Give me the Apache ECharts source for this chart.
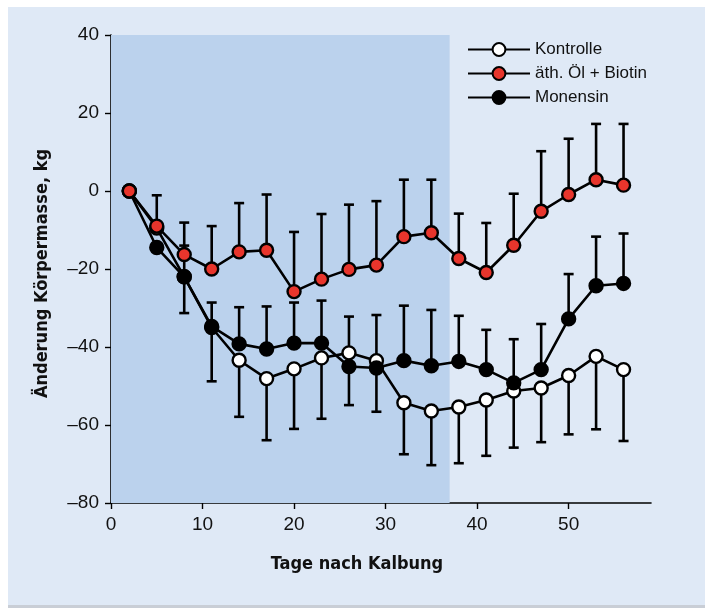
<!DOCTYPE html>
<html>
<head>
<meta charset="utf-8">
<script src="https://cdn.jsdelivr.net/npm/echarts@6/dist/echarts.min.js"></script>
<style>
  html, body { margin: 0; padding: 0; background: #ffffff; }
  #chart { width: 705px; height: 608px; }
</style>
</head>
<body>
<div id="chart"></div>
<script>
// Sampling days after calving
const days = [2, 5, 8, 11, 14, 17, 20, 23, 26, 29, 32, 35, 38, 41, 44, 47, 50, 53, 56];

// Mean body-mass change (kg) per group
const kontrolle = [0, -9.5, -22.0, -35.0, -43.4, -48.1, -45.6, -42.8, -41.5, -43.5, -54.3, -56.4, -55.4, -53.6, -51.3, -50.5, -47.3, -42.4, -45.8];
const oelBiotin = [0, -9.0, -16.3, -20.0, -15.6, -15.2, -25.8, -22.6, -20.1, -19.0, -11.7, -10.7, -17.3, -20.9, -13.9, -5.2, -0.9, 2.9, 1.5];
const monensin  = [0, -14.5, -22.0, -34.7, -39.2, -40.5, -39.0, -39.0, -45.0, -45.4, -43.5, -44.8, -43.7, -45.8, -49.2, -45.8, -32.8, -24.3, -23.7];

// Error-bar ends: Kontrolle shown downward, the other two upward (null = no bar)
const kontrolleLower = [null, null, -31.3, -48.8, -57.9, -63.9, -61.0, -58.4, -54.9, -56.6, -67.5, -70.3, -69.8, -67.9, -65.8, -64.4, -62.4, -61.1, -64.1];
const oelBiotinUpper = [null, -1.1, -8.1, -9.0, -3.1, -0.9, -10.5, -5.9, -3.5, -2.6, 2.9, 2.9, -5.8, -8.2, -0.7, 10.2, 13.4, 17.2, 17.2];
const monensinUpper  = [null, null, -14.0, -28.6, -29.8, -29.6, -28.6, -28.1, -32.2, -31.8, -29.4, -30.5, -32.0, -35.6, -38.0, -34.1, -21.3, -11.7, -10.9];

// Period of the feeding phase (shaded)
const phaseStart = 0;
const phaseEnd = 37;

const xTicks = [0, 10, 20, 30, 40, 50];
const yTicks = [-80, -60, -40, -20, 0, 20, 40];

const names = { k: 'Kontrolle', o: 'äth. Öl + Biotin', m: 'Monensin' };

const pairs = (vals) => days.map((d, i) => [d, vals[i]]);
const bars = (vals, ends) => days
  .map((d, i) => [d, vals[i], ends[i]])
  .filter(r => r[2] !== null);

const FONT = 'Liberation Sans';
const TITLE_FONT = "'DejaVu Sans Condensed', 'Liberation Sans', sans-serif";
const BAR_W = 2.6;
const CAP = 5;

function errorBar(params, api) {
  const x = api.value(0);
  const p0 = api.coord([x, api.value(1)]);
  const p1 = api.coord([x, api.value(2)]);
  const st = { stroke: '#000', lineWidth: BAR_W };
  return {
    type: 'group',
    children: [
      { type: 'line', shape: { x1: p0[0], y1: p0[1], x2: p1[0], y2: p1[1] }, style: st },
      { type: 'line', shape: { x1: p1[0] - CAP, y1: p1[1], x2: p1[0] + CAP, y2: p1[1] }, style: st }
    ]
  };
}

function barSeries(vals, ends, z) {
  return {
    type: 'custom',
    renderItem: errorBar,
    data: bars(vals, ends),
    encode: { x: 0, y: [1, 2] },
    z: z,
    silent: true
  };
}

function lineSeries(name, vals, fill, z) {
  return {
    name: name,
    type: 'line',
    data: pairs(vals),
    symbol: 'circle',
    symbolSize: 13,
    showAllSymbol: true,
    z: z,
    lineStyle: { color: '#000', width: 2.6 },
    itemStyle: { color: fill, borderColor: '#000', borderWidth: 2.4 },
    emphasis: { disabled: true },
    animation: false
  };
}

const chart = echarts.init(document.getElementById('chart'), null, { renderer: 'canvas' });

chart.setOption({
  animation: false,
  backgroundColor: '#ffffff',
  graphic: [
    { type: 'rect', z: -10, silent: true, shape: { x: 8, y: 7, width: 697, height: 599 }, style: { fill: '#dfe9f6' } },
    { type: 'rect', z: -10, silent: true, shape: { x: 8, y: 605, width: 697, height: 3 }, style: { fill: '#c9ced6' } }
  ],
  grid: { left: 111, right: 54, top: 35, bottom: 105, containLabel: false },
  legend: {
    orient: 'vertical',
    left: 462,
    top: 36,
    itemWidth: 62,
    itemHeight: 16,
    itemGap: 7,
    data: [names.k, names.o, names.m],
    textStyle: { fontFamily: FONT, fontSize: 17, color: '#111' }
  },
  xAxis: {
    type: 'value',
    min: 0,
    max: 59,
    name: 'Tage nach Kalbung',
    nameLocation: 'middle',
    nameGap: 52,
    nameTextStyle: { fontFamily: TITLE_FONT, fontWeight: 'bold', fontSize: 18, color: '#111', padding: [0, 48, 0, 0] },
    axisLine: { show: true, onZero: false, lineStyle: { color: '#000', width: 1.6 } },
    axisTick: { show: true, length: 6, customValues: xTicks, lineStyle: { color: '#000', width: 1.4 } },
    axisLabel: { customValues: xTicks, margin: 12, fontFamily: FONT, fontSize: 19, color: '#111' },
    splitLine: { show: false }
  },
  yAxis: {
    type: 'value',
    min: -80,
    max: 40,
    interval: 20,
    name: 'Änderung Körpermasse, kg',
    nameLocation: 'middle',
    nameGap: 60,
    nameTextStyle: { fontFamily: TITLE_FONT, fontWeight: 'bold', fontSize: 18, color: '#111', padding: [0, 9, 0, 0] },
    axisLine: { show: true, onZero: false, lineStyle: { color: '#000', width: 1.6 } },
    axisTick: { show: true, length: 6, customValues: yTicks, lineStyle: { color: '#000', width: 1.4 } },
    axisLabel: {
      customValues: yTicks,
      margin: 12,
      fontFamily: FONT,
      fontSize: 19,
      color: '#111',
      formatter: v => (v < 0 ? '\u2013' + Math.abs(v) : String(v))
    },
    splitLine: { show: false }
  },
  series: [
    {
      type: 'line',
      data: [],
      silent: true,
      z: 0,
      markArea: {
        silent: true,
        itemStyle: { color: '#bbd2ed' },
        data: [[{ xAxis: phaseStart, yAxis: -80 }, { xAxis: phaseEnd, yAxis: 40 }]]
      }
    },
    barSeries(kontrolle, kontrolleLower, 1),
    barSeries(monensin, monensinUpper, 1),
    barSeries(oelBiotin, oelBiotinUpper, 1),
    lineSeries(names.k, kontrolle, '#ffffff', 2),
    lineSeries(names.m, monensin, '#000000', 3),
    lineSeries(names.o, oelBiotin, '#e8352c', 4)
  ]
});
</script>
</body>
</html>
